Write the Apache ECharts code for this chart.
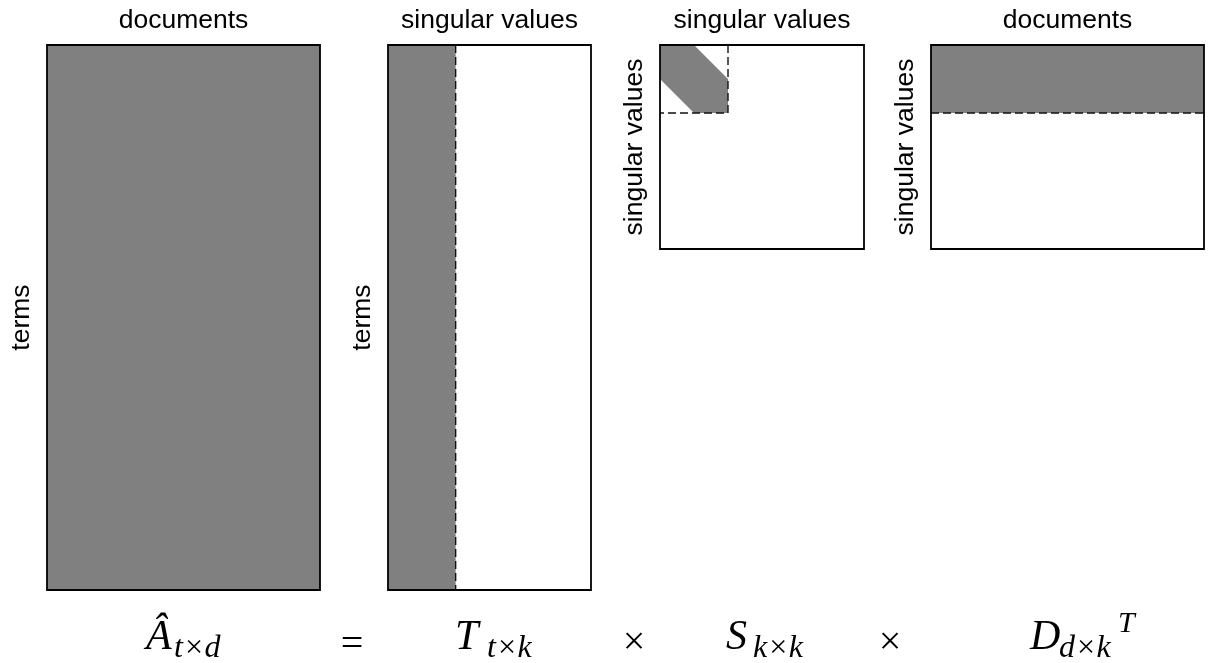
<!DOCTYPE html>
<html>
<head>
<meta charset="utf-8">
<script src="https://cdn.jsdelivr.net/npm/echarts@6/dist/echarts.min.js"></script>
<style>
  html, body { margin: 0; padding: 0; background: #fff; }
  #chart { width: 1209px; height: 663px; }
</style>
</head>
<body>
<div id="chart"></div>
<script>
// ---- data (matrix dimensions in units of the rank k) ----
const matrixTitles = ['documents', 'singular values', 'singular values', 'documents'];
const matrixRowLabels = ['terms', 'terms', 'singular values', 'singular values'];
const matrixRows = [8, 8, 3, 3];
const matrixCols = [4, 3, 3, 4];
// shaded (retained) regions, as polygons in [column, row] matrix units
const shadeA = [[0, 0], [4, 0], [4, 8], [0, 8]];
const shadeT = [[0, 0], [1, 0], [1, 8], [0, 8]];
const shadeS = [[0, 0], [0.5, 0], [1, 0.5], [1, 1], [0.5, 1], [0, 0.5]];
const shadeD = [[0, 0], [4, 0], [4, 1], [0, 1]];
const shadedRegions = [shadeA, shadeT, shadeS, shadeD];
// dashed rank-k cut lines
const cutA = [];
const cutT = [[[1, 0], [1, 8]]];
const cutS = [[[1, 0], [1, 1], [0, 1]]];
const cutD = [[[0, 1], [4, 1]]];
const cutLines = [cutA, cutT, cutS, cutD];
// formula pieces
const formulaMain = ['Â', 'T', 'S', 'D'];
const formulaSub = ['t×d', 't×k', 'k×k', 'd×k'];
const formulaOps = ['=', '×', '×'];
const formulaSup = 'T';

// ---- layout ----
const gridBoxes = [
  { left: 47, top: 45, width: 273, height: 545 },
  { left: 388, top: 45, width: 203, height: 545 },
  { left: 660, top: 45, width: 204, height: 204 },
  { left: 931, top: 45, width: 273, height: 204 }
];
const sans = 'Liberation Sans, Arial, sans-serif';
const serif = 'Liberation Serif, Times New Roman, serif';
const nameStyle = { fontSize: 26.5, color: '#000', fontFamily: sans };

const grids = [], xAxes = [], yAxes = [], series = [];
for (let i = 0; i < 4; i++) {
  grids.push(Object.assign({ containLabel: false, show: false }, gridBoxes[i]));
  xAxes.push({
    type: 'value', gridIndex: i, position: 'top', min: 0, max: matrixCols[i],
    name: matrixTitles[i], nameLocation: 'middle', nameGap: 11, nameTextStyle: nameStyle,
    axisLine: { show: false }, axisTick: { show: false }, axisLabel: { show: false }, splitLine: { show: false }
  });
  yAxes.push({
    type: 'value', gridIndex: i, inverse: true, min: 0, max: matrixRows[i],
    name: matrixRowLabels[i], nameLocation: 'middle', nameGap: 12, nameTextStyle: nameStyle,
    axisLine: { show: false }, axisTick: { show: false }, axisLabel: { show: false }, splitLine: { show: false }
  });
  const poly = shadedRegions[i], cuts = cutLines[i], rows = matrixRows[i], cols = matrixCols[i];
  series.push({
    type: 'custom', xAxisIndex: i, yAxisIndex: i, silent: true, clip: false,
    data: [[0, 0]],
    renderItem: function (params, api) {
      const children = [];
      children.push({
        type: 'polygon',
        shape: { points: poly.map(p => api.coord(p)) },
        style: { fill: '#808080', stroke: null }
      });
      cuts.forEach(line => {
        children.push({
          type: 'polyline',
          shape: { points: line.map(p => api.coord(p)) },
          style: { stroke: '#111', lineWidth: 1.4, lineDash: [8, 4], fill: null }
        });
      });
      const p0 = api.coord([0, 0]), p1 = api.coord([cols, rows]);
      children.push({
        type: 'rect',
        shape: { x: p0[0], y: p0[1], width: p1[0] - p0[0], height: p1[1] - p0[1] },
        style: { fill: null, stroke: '#000', lineWidth: 1.8 }
      });
      return { type: 'group', children: children };
    }
  });
}

// ---- formula text ----
const mainX = [146, 455, 726, 1030];
const subX = [174, 487, 753, 1059];
const opX = [352, 634, 890];
const graphics = [];
for (let i = 0; i < 4; i++) {
  graphics.push({
    type: 'text', left: mainX[i], top: 617,
    style: { text: formulaMain[i], font: 'italic 42px ' + serif, fill: '#000' }
  });
  graphics.push({
    type: 'text', left: subX[i], top: 633,
    style: { text: formulaSub[i], font: 'italic 32px ' + serif, fill: '#000' }
  });
}
for (let i = 0; i < 3; i++) {
  graphics.push({
    type: 'text', x: opX[i], y: i === 0 ? 645 : 643,
    style: { text: formulaOps[i], font: '40px ' + serif, fill: '#000', align: 'center', verticalAlign: 'middle' }
  });
}
graphics.push({
  type: 'text', left: 1118, top: 609,
  style: { text: formulaSup, font: 'italic 30px ' + serif, fill: '#000' }
});

const chart = echarts.init(document.getElementById('chart'), null, { renderer: 'canvas' });
chart.setOption({
  animation: false,
  backgroundColor: '#fff',
  grid: grids,
  xAxis: xAxes,
  yAxis: yAxes,
  series: series,
  graphic: graphics
});
</script>
</body>
</html>
